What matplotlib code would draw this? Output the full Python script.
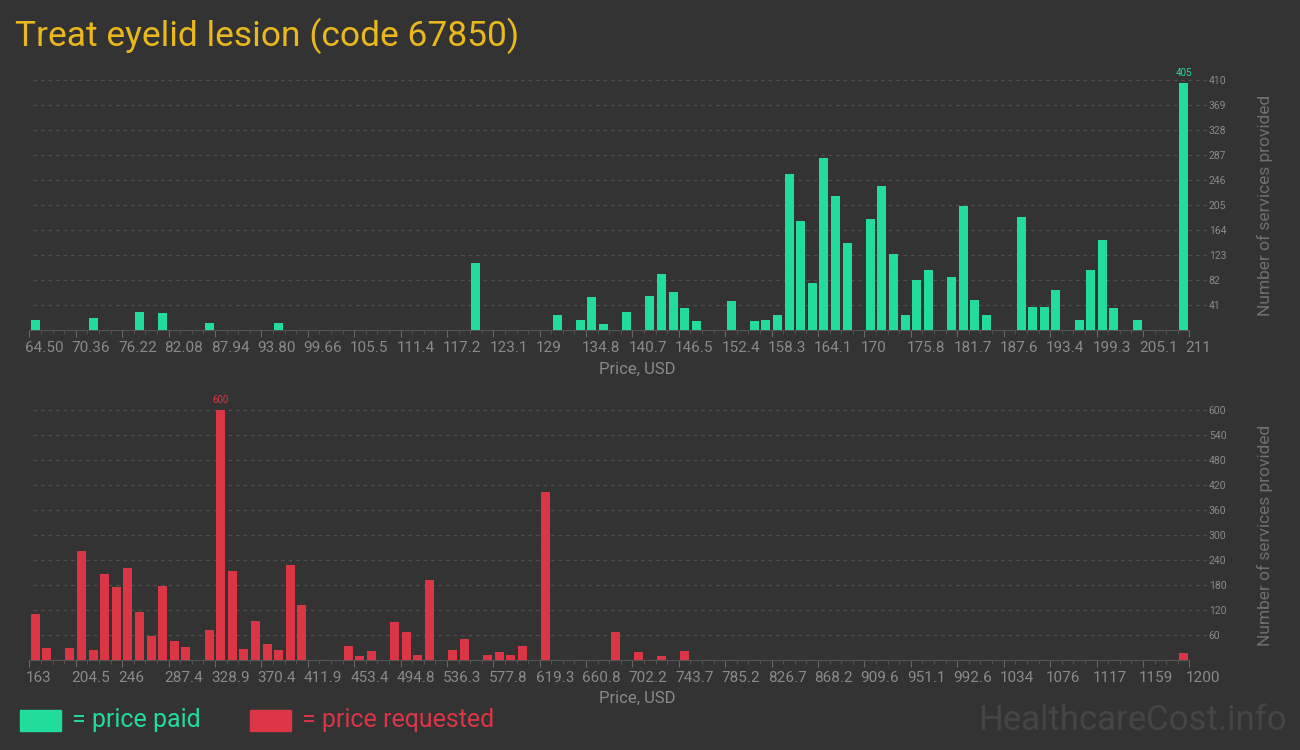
import matplotlib
matplotlib.use('Agg')
import matplotlib.pyplot as plt
import matplotlib.transforms as mtransforms
from matplotlib.patches import Rectangle

# colours
BG = '#333333'
GREEN = '#21dc9a'
RED = '#dc3545'
TITLE = '#e9b81c'
TICK = '#8a8a8a'
GRID = '#4e4e4e'

plt.rcParams['font.family'] = ['Roboto', 'DejaVu Sans']

# price paid: bin index (100 bins, 64.50 .. 211) and number of services
paid_bin = [0, 5, 9, 11, 15, 21, 38, 45, 47, 48, 49, 51, 53, 54, 55, 56, 57, 60,
            62, 63, 64, 65, 66, 67, 68, 69, 70, 72, 73, 74, 75, 76, 77, 79, 80,
            81, 82, 85, 86, 87, 88, 90, 91, 92, 93, 95, 99]
paid_cnt = [17, 20, 30, 28, 12, 12, 110, 25, 17, 55, 10, 30, 56, 92, 63, 37, 15, 48,
            15, 17, 25, 256, 179, 78, 283, 220, 143, 183, 237, 125, 25, 83, 99, 87, 204,
            50, 25, 186, 38, 38, 66, 17, 99, 148, 37, 17, 405]
paid_xticks = ['64.50', '70.36', '76.22', '82.08', '87.94', '93.80', '99.66', '105.5',
               '111.4', '117.2', '123.1', '129', '134.8', '140.7', '146.5', '152.4',
               '158.3', '164.1', '170', '175.8', '181.7', '187.6', '193.4', '199.3',
               '205.1', '211']
paid_yticks = [41, 82, 123, 164, 205, 246, 287, 328, 369, 410]

# price requested: bin index (100 bins, 163 .. 1200) and number of services
req_bin = [0, 1, 3, 4, 5, 6, 7, 8, 9, 10, 11, 12, 13, 15, 16, 17, 18, 19, 20, 21,
           22, 23, 27, 28, 29, 31, 32, 33, 34, 36, 37, 39, 40, 41, 42, 44, 50, 52,
           54, 56, 99]
req_cnt = [111, 30, 30, 262, 25, 207, 176, 222, 116, 58, 178, 46, 32, 73, 600, 214,
           27, 94, 39, 25, 229, 133, 34, 10, 22, 92, 68, 13, 193, 25, 51, 13, 20, 13,
           34, 404, 68, 20, 10, 22, 18]
req_xticks = ['163', '204.5', '246', '287.4', '328.9', '370.4', '411.9', '453.4',
              '494.8', '536.3', '577.8', '619.3', '660.8', '702.2', '743.7', '785.2',
              '826.7', '868.2', '909.6', '951.1', '992.6', '1034', '1076', '1117',
              '1159', '1200']
req_yticks = [60, 120, 180, 240, 300, 360, 420, 480, 540, 600]

fig = plt.figure(figsize=(13, 7.5), dpi=100, facecolor=BG)

W, H = 1300, 750
ax_left = 29.3 / W
ax_width = (1189.3 - 29.3) / W


def draw(ax, bins, cnts, xticks, yticks, color):
    ax.set_facecolor(BG)
    ax.bar([b + 0.5 for b in bins], cnts, width=0.78, color=color, zorder=3)
    ax.set_xlim(0, 100)
    ax.set_ylim(0, yticks[-1])
    for s in ['top', 'left', 'right']:
        ax.spines[s].set_visible(False)
    ax.spines['bottom'].set_color('#555555')
    ax.set_xticks(range(0, 101, 4))
    ax.set_xticklabels(xticks, fontsize=11, color=TICK, ha='left')
    ax.set_xticks(range(0, 101), minor=True)
    ax.tick_params(axis='x', which='major', length=5, color='#666666', pad=3)
    ax.tick_params(axis='x', which='minor', length=3, color='#555555')
    off = mtransforms.ScaledTranslation(-0.04, 0, fig.dpi_scale_trans)
    for lab in ax.get_xticklabels():
        lab.set_transform(lab.get_transform() + off)
    ax.yaxis.tick_right()
    ax.set_yticks(yticks)
    ax.set_yticklabels([str(v) for v in yticks], fontsize=7.5, color=TICK)
    ax.tick_params(axis='y', length=0, pad=14)
    for v in yticks:
        ax.axhline(v, xmin=0.003, xmax=1.015, color=GRID, lw=0.9,
                   ls=(0, (3, 3)), zorder=1, clip_on=False)
    ax.text(1.0655, 0.5, 'Number of services provided', transform=ax.transAxes,
            rotation=90, ha='center', va='center', fontsize=12.5, color='#707070')
    # peak label
    i = cnts.index(max(cnts))
    ax.text(bins[i] + 0.5, max(cnts) + yticks[-1] * 0.02, str(max(cnts)),
            ha='center', va='bottom', fontsize=7, color=color, clip_on=False)


ax1 = fig.add_axes([ax_left, 1 - 330.3 / H, ax_width, 250 / H])
draw(ax1, paid_bin, paid_cnt, paid_xticks, paid_yticks, GREEN)
ax2 = fig.add_axes([ax_left, 1 - 660.3 / H, ax_width, 250 / H])
draw(ax2, req_bin, req_cnt, req_xticks, req_yticks, RED)

fig.text(637 / W, 1 - 369 / H, 'Price, USD', ha='center', va='center',
         fontsize=12, color='#8a8a8a')
fig.text(637 / W, 1 - 698 / H, 'Price, USD', ha='center', va='center',
         fontsize=12, color='#8a8a8a')

fig.text(15 / W, 1 - 46 / H, 'Treat eyelid lesion (code 67850)', ha='left',
         va='baseline', fontsize=25.5, color=TITLE)

# legend
fig.patches.append(Rectangle((20 / W, 1 - 731 / H), 41 / W, 21 / H,
                             transform=fig.transFigure, color=GREEN))
fig.text(72 / W, 1 - 720 / H, '= price paid', ha='left', va='center',
         fontsize=18, color=GREEN)
fig.patches.append(Rectangle((250 / W, 1 - 731 / H), 41 / W, 21 / H,
                             transform=fig.transFigure, color=RED))
fig.text(302 / W, 1 - 720 / H, '= price requested', ha='left', va='center',
         fontsize=18, color=RED)

fig.text(1287 / W, 1 - 720 / H, 'HealthcareCost.info', ha='right', va='center',
         fontsize=25, color='#454545')

fig.savefig('out.png', dpi=100, facecolor=BG)
